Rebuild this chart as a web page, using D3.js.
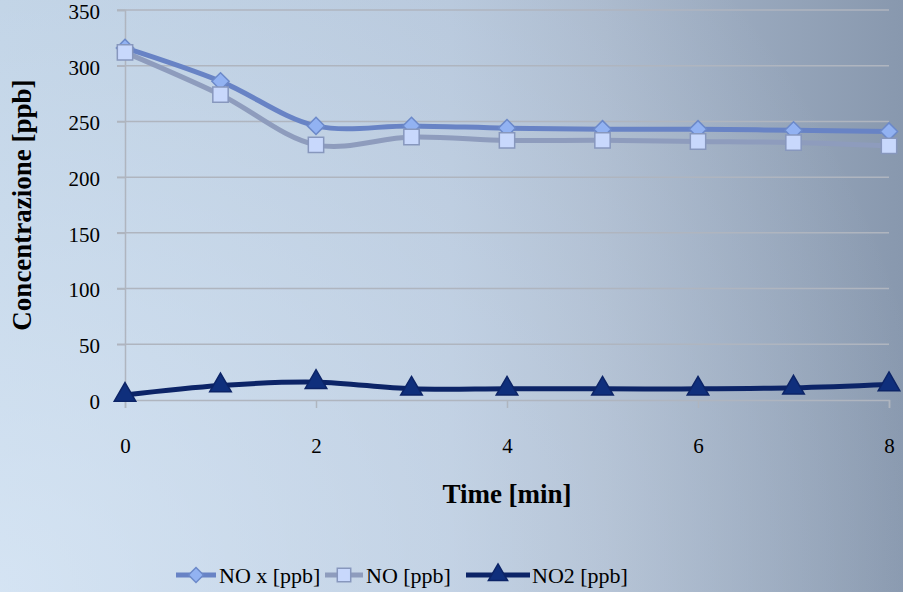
<!DOCTYPE html>
<html>
<head>
<meta charset="utf-8">
<script src="https://cdn.jsdelivr.net/npm/d3@7"></script>
<style>
  body { margin: 0; }
  svg { display: block; }
</style>
</head>
<body>
<svg id="chart" width="903" height="592"></svg>
<script>
const time = [0, 1, 2, 3, 4, 5, 6, 7, 8];
const noxValues = [316, 286, 246, 246, 244, 243, 243, 242, 241];
const noValues = [312, 274, 229, 236, 233, 233, 232, 231, 228];
const no2Values = [4.5, 13, 16, 10, 10, 10, 10, 11, 14];
const xTicks = [0, 2, 4, 6, 8];
const yTicks = [0, 50, 100, 150, 200, 250, 300, 350];

const FONT = '"Times New Roman", Times, serif';

const series = [
  { name: 'NO x [ppb]', values: noxValues, line: '#6883c5', fill: '#92b2f2', stroke: '#6c89c9', shape: 'diamond' },
  { name: 'NO [ppb]', values: noValues, line: '#8e9cbd', fill: '#c8d8fc', stroke: '#8797bd', shape: 'square' },
  { name: 'NO2 [ppb]', values: no2Values, line: '#0c2467', fill: '#0f2f7c', stroke: '#0c2467', shape: 'triangle' },
];

const svg = d3.select('#chart');
const W = 903, H = 592;

// background: horizontal gradient plus a light glow from the bottom-left corner
const defs = svg.append('defs');
const grad = defs.append('linearGradient')
  .attr('id', 'bg')
  .attr('x1', 0).attr('y1', 0)
  .attr('x2', 1).attr('y2', 0);
grad.append('stop').attr('offset', '0%').attr('stop-color', '#b8cce0');
grad.append('stop').attr('offset', '50%').attr('stop-color', '#b2c3d8');
grad.append('stop').attr('offset', '67%').attr('stop-color', '#a8b7cb');
grad.append('stop').attr('offset', '100%').attr('stop-color', '#8898ae');

const glow = defs.append('radialGradient')
  .attr('id', 'glow')
  .attr('gradientUnits', 'userSpaceOnUse')
  .attr('cx', 0).attr('cy', H)
  .attr('r', 950);
glow.append('stop').attr('offset', '0%').attr('stop-color', '#e6f2ff').attr('stop-opacity', 0.62);
glow.append('stop').attr('offset', '100%').attr('stop-color', '#e6f2ff').attr('stop-opacity', 0);

svg.append('rect').attr('width', W).attr('height', H).attr('fill', 'url(#bg)');
svg.append('rect').attr('width', W).attr('height', H).attr('fill', 'url(#glow)');

const x = d3.scaleLinear().domain([0, 8]).range([125, 889]);
const y = d3.scaleLinear().domain([0, 350]).range([400, 10]);

// gridlines
svg.append('g')
  .selectAll('line')
  .data(yTicks.filter((d) => d > 0))
  .join('line')
  .attr('x1', 117)
  .attr('x2', x(8))
  .attr('y1', (d) => y(d))
  .attr('y2', (d) => y(d))
  .attr('stroke', '#afb5bf')
  .attr('stroke-width', 1.5);

// y axis
const yAxis = svg.append('g')
  .attr('transform', `translate(${x(0)},0)`)
  .call(d3.axisLeft(y).tickValues(yTicks).tickSize(8).tickPadding(17));
yAxis.attr('font-family', FONT);
yAxis.select('.domain').attr('stroke', '#afb5bf').attr('stroke-width', 1.5);
yAxis.selectAll('.tick line').attr('stroke', '#afb5bf').attr('stroke-width', 1.5);
yAxis.selectAll('.tick text')
  .attr('font-size', 21)
  .attr('dy', '0.4em')
  .attr('fill', '#000');

// x axis
const xAxis = svg.append('g')
  .attr('transform', `translate(0,${y(0)})`)
  .call(d3.axisBottom(x).tickValues(xTicks).tickSize(8).tickPadding(30).tickFormat(d3.format('d')));
xAxis.attr('font-family', FONT);
xAxis.select('.domain').attr('stroke', '#afb5bf').attr('stroke-width', 1.5);
xAxis.selectAll('.tick line').attr('stroke', '#afb5bf').attr('stroke-width', 1.5);
xAxis.selectAll('.tick text')
  .attr('font-size', 21)
  .attr('fill', '#000');

// axis titles
svg.append('text')
  .attr('x', (x(0) + x(8)) / 2)
  .attr('y', 503)
  .attr('text-anchor', 'middle')
  .attr('font-family', FONT)
  .attr('font-size', 27)
  .attr('font-weight', 'bold')
  .text('Time [min]');

svg.append('text')
  .attr('transform', `translate(31,${y(175)}) rotate(-90)`)
  .attr('text-anchor', 'middle')
  .attr('font-family', FONT)
  .attr('font-size', 27)
  .attr('font-weight', 'bold')
  .text('Concentrazione [ppb]');

const symbolFor = (shape, size) => {
  if (shape === 'diamond') return d3.symbol().type(d3.symbolDiamond2).size(size * 0.9)();
  if (shape === 'square') return d3.symbol().type(d3.symbolSquare2).size(size)();
  return d3.symbol().type(d3.symbolTriangle2).size(size * 1.15)();
};

const line = d3.line()
  .x((d, i) => x(time[i]))
  .y((d) => y(d))
  .curve(d3.curveCatmullRom.alpha(0.5));

// lines, drawn so NOx sits above NO
const plot = svg.append('g');
[series[1], series[0], series[2]].forEach((s) => {
  plot.append('path')
    .attr('d', line(s.values))
    .attr('fill', 'none')
    .attr('stroke', s.line)
    .attr('stroke-width', 5)
    .attr('stroke-linejoin', 'round');
});

// markers
[series[0], series[1], series[2]].forEach((s) => {
  const sz = s.shape === 'diamond' ? 210 : s.shape === 'square' ? 300 : 290;
  plot.append('g')
    .selectAll('path')
    .data(s.values)
    .join('path')
    .attr('transform', (d, i) => `translate(${x(time[i])},${y(d)})`)
    .attr('d', symbolFor(s.shape, sz))
    .attr('fill', s.fill)
    .attr('stroke', s.stroke)
    .attr('stroke-width', 1.5);
});

// legend
const legendItems = [
  { s: series[0], x0: 176, x1: 216, tx: 219 },
  { s: series[1], x0: 325, x1: 363, tx: 366 },
  { s: series[2], x0: 466, x1: 530, tx: 532 },
];
const legend = svg.append('g').attr('transform', 'translate(0,575)');
legendItems.forEach((it) => {
  legend.append('line')
    .attr('x1', it.x0).attr('x2', it.x1)
    .attr('stroke', it.s.line)
    .attr('stroke-width', 5);
  const sz = it.s.shape === 'diamond' ? 160 : it.s.shape === 'square' ? 230 : 230;
  legend.append('path')
    .attr('transform', `translate(${(it.x0 + it.x1) / 2},0)`)
    .attr('d', symbolFor(it.s.shape, sz))
    .attr('fill', it.s.fill)
    .attr('stroke', it.s.stroke)
    .attr('stroke-width', 1.5);
  legend.append('text')
    .attr('x', it.tx)
    .attr('y', 8)
    .attr('font-size', 22)
    .attr('font-family', FONT)
    .attr('fill', '#000')
    .text(it.s.name);
});
</script>
</body>
</html>
